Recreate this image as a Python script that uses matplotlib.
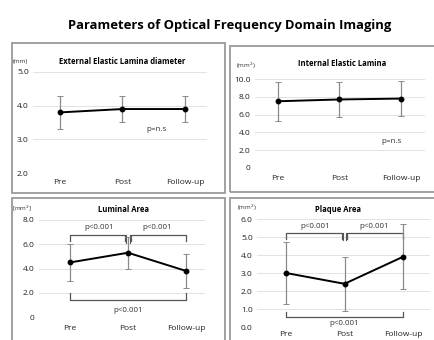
import matplotlib
matplotlib.use("Agg")
import matplotlib.pyplot as plt
from matplotlib.patches import Rectangle

plt.rcParams['font.family'] = ['Open Sans', 'DejaVu Sans']

categories = ["Pre", "Post", "Follow-up"]

eel_mean = [3.8, 3.9, 3.9]
eel_err = [0.5, 0.4, 0.4]

iel_mean = [7.5, 7.7, 7.8]
iel_err = [2.2, 2.0, 1.95]

lum_mean = [4.5, 5.3, 3.8]
lum_err = [1.5, 1.3, 1.4]

plq_mean = [3.0, 2.4, 3.9]
plq_err = [1.7, 1.5, 1.8]

W, H = 435, 340
fig = plt.figure(figsize=(W / 100, H / 100), dpi=100)

def fx(px):
    return px / W

def fy(py):
    return 1 - py / H

# panel frames
box_color = "#9a9a9a"
for (x0, y0, x1, y1) in [(12, 43, 225, 193), (230, 46, 440, 192),
                         (12, 198, 225, 345), (230, 198, 440, 345)]:
    fig.patches.append(Rectangle((fx(x0), fy(y1)), fx(x1 - x0), (y1 - y0) / H,
                                 transform=fig.transFigure, fill=False,
                                 edgecolor=box_color, linewidth=1.3))

fig.text(fx(230), fy(25), "Parameters of Optical Frequency Domain Imaging",
         ha="center", va="center", fontsize=9.4, fontweight="bold")

TICK_FS = 6
TXT_FS = 5.8

def make_ax(left, right, top, bottom, cat_px, ylim, yticks, ylabels):
    ax = fig.add_axes([fx(left), fy(bottom), fx(right - left), (bottom - top) / H])
    sp = (cat_px[2] - cat_px[0]) / 2
    ax.set_xlim((left - cat_px[0]) / sp, (right - cat_px[0]) / sp)
    ax.set_ylim(*ylim)
    for s in ax.spines.values():
        s.set_visible(False)
    ax.set_yticks(yticks)
    ax.set_yticklabels(ylabels)
    ax.set_xticks(range(len(categories)))
    ax.set_xticklabels(categories)
    ax.tick_params(length=0, labelsize=TICK_FS, colors="#222222")
    ax.tick_params(axis="y", pad=3)
    ax.grid(axis="y", color="#dddddd", linewidth=0.6)
    ax.set_axisbelow(True)
    return ax

def plot_series(ax, mean, err):
    x = range(len(categories))
    ax.errorbar(x, mean, yerr=err, color="black", ecolor="#8a8a8a",
                elinewidth=0.9, capsize=2, capthick=0.7, linewidth=1.4,
                marker="o", markersize=3.2, zorder=3)

def bracket(ax, x0, x1, y, yend, color="#555555"):
    ax.plot([x0, x0, x1, x1], [yend, y, y, yend], color=color, linewidth=0.9,
            clip_on=False, zorder=2)

# Top-left: External Elastic Lamina diameter
ax1 = make_ax(33, 207, 72, 173, [60, 122, 185], (2, 5), [2, 3, 4, 5],
              ["2.0", "3.0", "4.0", "5.0"])
ax1.tick_params(axis="x", pad=4)
plot_series(ax1, eel_mean, eel_err)
ax1.text(1.55, 3.3, "p=n.s", fontsize=TXT_FS, ha="center", va="center", color="#333333")
fig.text(fx(13), fy(61), "(mm)", fontsize=4.5, ha="left", va="center", color="#333333")
fig.text(fx(122), fy(61), "External Elastic Lamina diameter", fontsize=5.5,
         fontweight="bold", ha="center", va="center")

# Top-right: Internal Elastic Lamina
ax2 = make_ax(255, 425, 79, 168, [278, 339, 401], (0, 10), [0, 2, 4, 6, 8, 10],
              ["0", "2.0", "4.0", "6.0", "8.0", "10.0"])
ax2.tick_params(axis="x", pad=5)
plot_series(ax2, iel_mean, iel_err)
ax2.text(1.85, 3.0, "p=n.s", fontsize=TXT_FS, ha="center", va="center", color="#333333")
fig.text(fx(236), fy(66), "(mm$^2$)", fontsize=4.5, ha="left", va="center", color="#333333")
fig.text(fx(342), fy(63), "Internal Elastic Lamina", fontsize=5.5,
         fontweight="bold", ha="center", va="center")

# Bottom-left: Luminal Area
ax3 = make_ax(39, 205, 220, 317, [70, 128, 186], (0, 8), [0, 2, 4, 6, 8],
              ["0", "2.0", "4.0", "6.0", "8.0"])
ax3.tick_params(axis="x", pad=6)
plot_series(ax3, lum_mean, lum_err)
bracket(ax3, 0, 0.95, 6.75, 6.3)
bracket(ax3, 1.05, 2.0, 6.75, 6.3)
ax3.plot([0.97, 0.97], [6.1, 6.75], color="#555555", linewidth=0.8)
ax3.plot([1.03, 1.03], [6.1, 6.75], color="#555555", linewidth=0.8)
bracket(ax3, 0, 2.0, 1.4, 2.0)
ax3.text(0.5, 7.4, "p<0.001", fontsize=TXT_FS, ha="center", va="center", color="#333333")
ax3.text(1.5, 7.4, "p<0.001", fontsize=TXT_FS, ha="center", va="center", color="#333333")
ax3.text(1.0, 0.5, "p<0.001", fontsize=TXT_FS, ha="center", va="center", color="#333333")
fig.text(fx(12), fy(208), "[mm$^2$]", fontsize=4.5, ha="left", va="center", color="#333333")
fig.text(fx(124), fy(210), "Luminal Area", fontsize=5.5,
         fontweight="bold", ha="center", va="center")

# Bottom-right: Plaque Area
ax4 = make_ax(257, 430, 219, 327, [286, 344, 403], (0, 6), [0, 1, 2, 3, 4, 5, 6],
              ["0.0", "1.0", "2.0", "3.0", "4.0", "5.0", "6.0"])
ax4.tick_params(axis="x", pad=3)
plot_series(ax4, plq_mean, plq_err)
bracket(ax4, 0, 0.95, 5.2, 4.9)
bracket(ax4, 1.05, 2.0, 5.2, 4.9)
ax4.plot([0.97, 0.97], [4.85, 5.2], color="#555555", linewidth=0.8)
ax4.plot([1.03, 1.03], [4.85, 5.2], color="#555555", linewidth=0.8)
bracket(ax4, 0, 2.0, 0.55, 0.85)
ax4.text(0.5, 5.6, "p<0.001", fontsize=TXT_FS, ha="center", va="center", color="#333333")
ax4.text(1.5, 5.6, "p<0.001", fontsize=TXT_FS, ha="center", va="center", color="#333333")
ax4.text(1.0, 0.22, "p<0.001", fontsize=TXT_FS, ha="center", va="center", color="#333333")
fig.text(fx(237), fy(208), "(mm$^2$)", fontsize=4.5, ha="left", va="center", color="#333333")
fig.text(fx(338), fy(210), "Plaque Area", fontsize=5.5,
         fontweight="bold", ha="center", va="center")

fig.savefig("out.png", dpi=100)
